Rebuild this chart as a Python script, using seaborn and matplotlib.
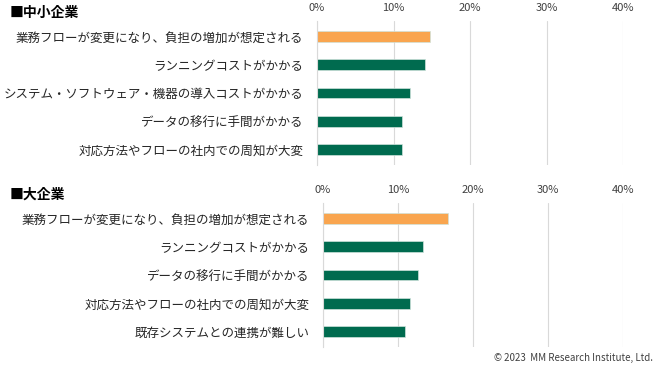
import pandas as pd
import numpy as np
import seaborn as sns
import matplotlib.pyplot as plt
from matplotlib.ticker import PercentFormatter

# 中小企業
sme_labels = [
    "業務フローが変更になり、負担の増加が想定される",
    "ランニングコストがかかる",
    "システム・ソフトウェア・機器の導入コストがかかる",
    "データの移行に手間がかかる",
    "対応方法やフローの社内での周知が大変",
]
sme_values = [14.8, 14.1, 12.1, 11.1, 11.1]

# 大企業
large_labels = [
    "業務フローが変更になり、負担の増加が想定される",
    "ランニングコストがかかる",
    "データの移行に手間がかかる",
    "対応方法やフローの社内での周知が大変",
    "既存システムとの連携が難しい",
]
large_values = [16.7, 13.3, 12.6, 11.6, 10.9]

panel_titles = ["■中小企業", "■大企業"]
xticks = [0, 10, 20, 30, 40]

ORANGE = "#F9A54F"
GREEN = "#006B4F"

sns.set_style("white")
plt.rcParams['font.family'] = ['Noto Sans CJK JP', 'DejaVu Sans']

fig = plt.figure(figsize=(6.65, 3.69), dpi=100)
W, H = 665, 369
# axes boxes in pixels: left, top, right, bottom
boxes = [(317, 21, 623, 165), (323, 203, 623, 347)]

for (labels, values), title, (l, t, r, b) in zip(
        [(sme_labels, sme_values), (large_labels, large_values)], panel_titles, boxes):
    ax = fig.add_axes([l / W, 1 - b / H, (r - l) / W, (b - t) / H])
    df = pd.DataFrame({"label": labels, "value": values})
    colors = [ORANGE] + [GREEN] * (len(labels) - 1)
    sns.barplot(data=df, y="label", x="value", hue="label", palette=colors,
                legend=False, orient="h", width=0.38, saturation=1, ax=ax,
                edgecolor="#CFE3DC", linewidth=0.5)
    ax.set_xlim(0, 40)
    ax.set_xticks(xticks)
    ax.xaxis.set_major_formatter(PercentFormatter(decimals=0))
    ax.xaxis.tick_top()
    ax.tick_params(axis="x", length=0, labelsize=8, colors="#404040", pad=6)
    ax.tick_params(axis="y", length=0, labelsize=9.0, colors="#262626", pad=10)
    ax.set_xlabel("")
    ax.set_ylabel("")
    ax.grid(axis="x", color="#D9D9D9", linewidth=0.8)
    ax.set_axisbelow(True)
    for s in ["top", "right", "bottom"]:
        ax.spines[s].set_visible(False)
    ax.spines["left"].set_color("#D9D9D9")
    ax.spines["left"].set_linewidth(0.8)
    ax.set_ylim(len(labels) - 0.5 + 0.05, -0.5 - 0.05)
    fig.text(10 / W, 1 - (t - 8) / H, title, fontsize=10, fontweight="bold",
             ha="left", va="center", color="#000000")

fig.text(653 / W, 1 - 358 / H, "© 2023  MM Research Institute, Ltd.",
         fontsize=7, ha="right", va="center", color="#404040")

fig.savefig("out.png", dpi=100)
